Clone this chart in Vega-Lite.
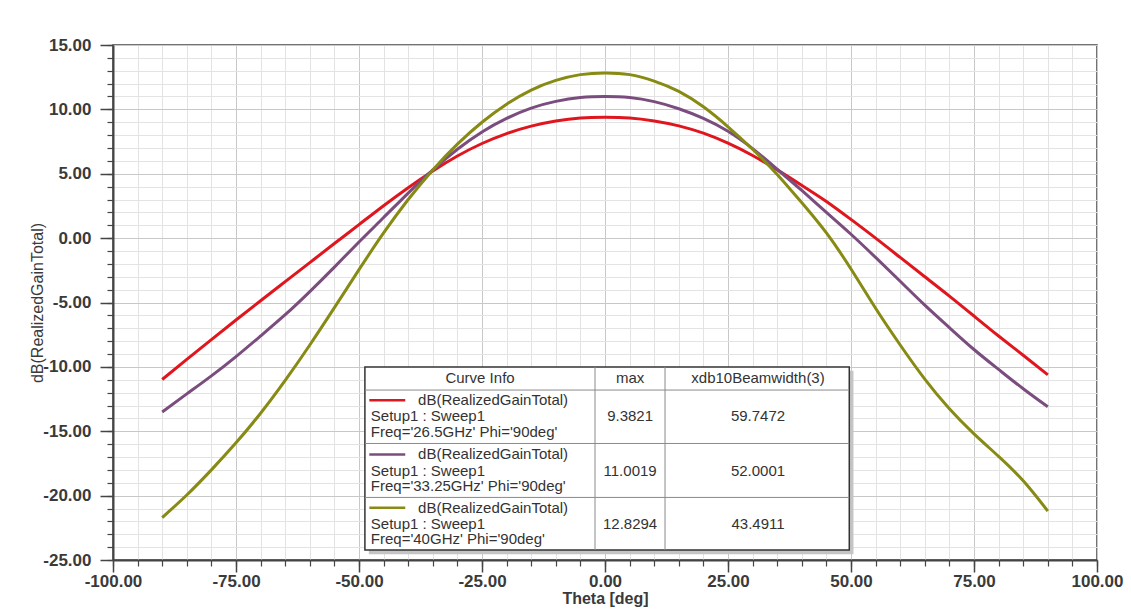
{
  "$schema": "https://vega.github.io/schema/vega-lite/v6.json",
  "width": 984,
  "height": 515,
  "autosize": {"type": "none"},
  "padding": {"left": 113, "top": 45, "right": 34, "bottom": 52},
  "background": "white",
  "config": {
    "view": {"stroke": "#444444", "strokeWidth": 1.5},
    "font": "Liberation Sans",
    "axis": {"labelFont": "Liberation Sans", "titleFont": "Liberation Sans"}
  },
  "datasets": {
    "curves": [
      {"curve": "26.5GHz", "theta": -90, "gain": -10.98},
      {"curve": "26.5GHz", "theta": -85, "gain": -9.42},
      {"curve": "26.5GHz", "theta": -80, "gain": -7.88},
      {"curve": "26.5GHz", "theta": -75, "gain": -6.36},
      {"curve": "26.5GHz", "theta": -70, "gain": -4.86},
      {"curve": "26.5GHz", "theta": -65, "gain": -3.38},
      {"curve": "26.5GHz", "theta": -60, "gain": -1.9},
      {"curve": "26.5GHz", "theta": -55, "gain": -0.42},
      {"curve": "26.5GHz", "theta": -50, "gain": 1.05},
      {"curve": "26.5GHz", "theta": -45, "gain": 2.52},
      {"curve": "26.5GHz", "theta": -40, "gain": 3.92},
      {"curve": "26.5GHz", "theta": -35, "gain": 5.22},
      {"curve": "26.5GHz", "theta": -30, "gain": 6.38},
      {"curve": "26.5GHz", "theta": -25, "gain": 7.35},
      {"curve": "26.5GHz", "theta": -20, "gain": 8.12},
      {"curve": "26.5GHz", "theta": -15, "gain": 8.7},
      {"curve": "26.5GHz", "theta": -10, "gain": 9.1},
      {"curve": "26.5GHz", "theta": -5, "gain": 9.33},
      {"curve": "26.5GHz", "theta": 0, "gain": 9.38},
      {"curve": "26.5GHz", "theta": 5, "gain": 9.33},
      {"curve": "26.5GHz", "theta": 10, "gain": 9.1},
      {"curve": "26.5GHz", "theta": 15, "gain": 8.72},
      {"curve": "26.5GHz", "theta": 20, "gain": 8.15},
      {"curve": "26.5GHz", "theta": 25, "gain": 7.38},
      {"curve": "26.5GHz", "theta": 30, "gain": 6.42},
      {"curve": "26.5GHz", "theta": 35, "gain": 5.3},
      {"curve": "26.5GHz", "theta": 40, "gain": 4.1},
      {"curve": "26.5GHz", "theta": 45, "gain": 2.85},
      {"curve": "26.5GHz", "theta": 50, "gain": 1.45},
      {"curve": "26.5GHz", "theta": 55, "gain": 0.0},
      {"curve": "26.5GHz", "theta": 60, "gain": -1.5},
      {"curve": "26.5GHz", "theta": 65, "gain": -3.0},
      {"curve": "26.5GHz", "theta": 70, "gain": -4.5},
      {"curve": "26.5GHz", "theta": 75, "gain": -6.05},
      {"curve": "26.5GHz", "theta": 80, "gain": -7.6},
      {"curve": "26.5GHz", "theta": 85, "gain": -9.1},
      {"curve": "26.5GHz", "theta": 90, "gain": -10.62},
      {"curve": "33.25GHz", "theta": -90, "gain": -13.5},
      {"curve": "33.25GHz", "theta": -85, "gain": -12.1},
      {"curve": "33.25GHz", "theta": -80, "gain": -10.7},
      {"curve": "33.25GHz", "theta": -75, "gain": -9.2},
      {"curve": "33.25GHz", "theta": -70, "gain": -7.6},
      {"curve": "33.25GHz", "theta": -65, "gain": -5.95},
      {"curve": "33.25GHz", "theta": -60, "gain": -4.15},
      {"curve": "33.25GHz", "theta": -55, "gain": -2.25},
      {"curve": "33.25GHz", "theta": -50, "gain": -0.3},
      {"curve": "33.25GHz", "theta": -45, "gain": 1.6},
      {"curve": "33.25GHz", "theta": -40, "gain": 3.5},
      {"curve": "33.25GHz", "theta": -35, "gain": 5.3},
      {"curve": "33.25GHz", "theta": -30, "gain": 6.9},
      {"curve": "33.25GHz", "theta": -25, "gain": 8.25},
      {"curve": "33.25GHz", "theta": -20, "gain": 9.3},
      {"curve": "33.25GHz", "theta": -15, "gain": 10.1},
      {"curve": "33.25GHz", "theta": -10, "gain": 10.62},
      {"curve": "33.25GHz", "theta": -5, "gain": 10.92},
      {"curve": "33.25GHz", "theta": 0, "gain": 11.0},
      {"curve": "33.25GHz", "theta": 5, "gain": 10.92},
      {"curve": "33.25GHz", "theta": 10, "gain": 10.6},
      {"curve": "33.25GHz", "theta": 15, "gain": 10.05},
      {"curve": "33.25GHz", "theta": 20, "gain": 9.3},
      {"curve": "33.25GHz", "theta": 25, "gain": 8.3},
      {"curve": "33.25GHz", "theta": 30, "gain": 6.95},
      {"curve": "33.25GHz", "theta": 35, "gain": 5.35},
      {"curve": "33.25GHz", "theta": 40, "gain": 3.7},
      {"curve": "33.25GHz", "theta": 45, "gain": 2.0},
      {"curve": "33.25GHz", "theta": 50, "gain": 0.3},
      {"curve": "33.25GHz", "theta": 55, "gain": -1.5},
      {"curve": "33.25GHz", "theta": 60, "gain": -3.35},
      {"curve": "33.25GHz", "theta": 65, "gain": -5.2},
      {"curve": "33.25GHz", "theta": 70, "gain": -6.95},
      {"curve": "33.25GHz", "theta": 75, "gain": -8.65},
      {"curve": "33.25GHz", "theta": 80, "gain": -10.2},
      {"curve": "33.25GHz", "theta": 85, "gain": -11.7},
      {"curve": "33.25GHz", "theta": 90, "gain": -13.1},
      {"curve": "40GHz", "theta": -90, "gain": -21.7},
      {"curve": "40GHz", "theta": -85, "gain": -19.95},
      {"curve": "40GHz", "theta": -80, "gain": -18.0},
      {"curve": "40GHz", "theta": -75, "gain": -15.9},
      {"curve": "40GHz", "theta": -70, "gain": -13.6},
      {"curve": "40GHz", "theta": -65, "gain": -11.05},
      {"curve": "40GHz", "theta": -60, "gain": -8.3},
      {"curve": "40GHz", "theta": -55, "gain": -5.4},
      {"curve": "40GHz", "theta": -50, "gain": -2.45},
      {"curve": "40GHz", "theta": -45, "gain": 0.4},
      {"curve": "40GHz", "theta": -40, "gain": 3.0},
      {"curve": "40GHz", "theta": -35, "gain": 5.3},
      {"curve": "40GHz", "theta": -30, "gain": 7.3},
      {"curve": "40GHz", "theta": -25, "gain": 9.0},
      {"curve": "40GHz", "theta": -20, "gain": 10.4},
      {"curve": "40GHz", "theta": -15, "gain": 11.5},
      {"curve": "40GHz", "theta": -10, "gain": 12.25},
      {"curve": "40GHz", "theta": -5, "gain": 12.7},
      {"curve": "40GHz", "theta": 0, "gain": 12.83},
      {"curve": "40GHz", "theta": 5, "gain": 12.7},
      {"curve": "40GHz", "theta": 10, "gain": 12.2},
      {"curve": "40GHz", "theta": 15, "gain": 11.4},
      {"curve": "40GHz", "theta": 20, "gain": 10.2},
      {"curve": "40GHz", "theta": 25, "gain": 8.65},
      {"curve": "40GHz", "theta": 30, "gain": 6.9},
      {"curve": "40GHz", "theta": 35, "gain": 4.95},
      {"curve": "40GHz", "theta": 40, "gain": 2.75},
      {"curve": "40GHz", "theta": 45, "gain": 0.4},
      {"curve": "40GHz", "theta": 50, "gain": -2.4},
      {"curve": "40GHz", "theta": 55, "gain": -5.45},
      {"curve": "40GHz", "theta": 60, "gain": -8.3},
      {"curve": "40GHz", "theta": 65, "gain": -10.95},
      {"curve": "40GHz", "theta": 70, "gain": -13.25},
      {"curve": "40GHz", "theta": 75, "gain": -15.2},
      {"curve": "40GHz", "theta": 80, "gain": -16.95},
      {"curve": "40GHz", "theta": 85, "gain": -18.85},
      {"curve": "40GHz", "theta": 90, "gain": -21.2}
    ],
    "legend": [
      {"curve": "26.5GHz", "name": "dB(RealizedGainTotal)", "setup": "Setup1 : Sweep1", "freq": "Freq='26.5GHz' Phi='90deg'", "max": "9.3821", "bw": "59.7472", "y1": -12.6, "y2": -13.85, "y3": -15.05},
      {"curve": "33.25GHz", "name": "dB(RealizedGainTotal)", "setup": "Setup1 : Sweep1", "freq": "Freq='33.25GHz' Phi='90deg'", "max": "11.0019", "bw": "52.0001", "y1": -16.8, "y2": -18.05, "y3": -19.25},
      {"curve": "40GHz", "name": "dB(RealizedGainTotal)", "setup": "Setup1 : Sweep1", "freq": "Freq='40GHz' Phi='90deg'", "max": "12.8294", "bw": "43.4911", "y1": -20.95, "y2": -22.2, "y3": -23.4}
    ],
    "header": [
      {"t": "Curve Info", "x": -25.4},
      {"t": "max", "x": 5.1},
      {"t": "xdb10Beamwidth(3)", "x": 31.1}
    ],
    "hlines": [{"y": -11.8}, {"y": -15.95}, {"y": -20.14}],
    "vlines": [{"x": -2.03}, {"x": 12.2}],
    "shadow": [{"x1": -48.0, "x2": 50.5, "y1": -10.3, "y2": -24.55}],
    "box": [{"x1": -48.8, "x2": 49.65, "y1": -10.0, "y2": -24.23}]
  },
  "layer": [
    {
      "data": {"name": "curves"},
      "mark": {"type": "line", "opacity": 0},
      "encoding": {
        "x": {
          "field": "theta", "type": "quantitative",
          "scale": {"domain": [-100, 100], "nice": false, "zero": false},
          "axis": {
            "orient": "bottom",
            "values": [-100,-95,-90,-85,-80,-75,-70,-65,-60,-55,-50,-45,-40,-35,-30,-25,-20,-15,-10,-5,0,5,10,15,20,25,30,35,40,45,50,55,60,65,70,75,80,85,90,95,100],
            "labels": false, "title": null, "domain": false,
            "ticks": true, "tickSize": 6, "tickColor": "#444444", "tickWidth": 1.2,
            "grid": true, "gridColor": "#e3e3e3", "gridWidth": 1
          }
        },
        "y": {
          "field": "gain", "type": "quantitative",
          "scale": {"domain": [-25, 15], "nice": false, "zero": false},
          "axis": {
            "orient": "left",
            "values": [-25,-24,-23,-22,-21,-20,-19,-18,-17,-16,-15,-14,-13,-12,-11,-10,-9,-8,-7,-6,-5,-4,-3,-2,-1,0,1,2,3,4,5,6,7,8,9,10,11,12,13,14,15],
            "labels": false, "title": null, "domain": false,
            "ticks": true, "tickSize": 6, "tickColor": "#444444", "tickWidth": 1.2,
            "grid": true, "gridColor": "#e3e3e3", "gridWidth": 1
          }
        }
      }
    },
    {
      "data": {"name": "curves"},
      "mark": {"type": "line", "strokeWidth": 3, "interpolate": "natural"},
      "encoding": {
        "x": {
          "field": "theta", "type": "quantitative",
          "axis": {
            "orient": "bottom",
            "values": [-100, -75, -50, -25, 0, 25, 50, 75, 100],
            "format": ".2f",
            "labelExpr": "replace(datum.label, '\u2212', '-')",
            "labelFlush": false, "labelOverlap": false,
            "labelFontSize": 17, "labelFontWeight": "bold", "labelColor": "#3a3a3a",
            "labelPadding": 1,
            "tickSize": 12, "tickWidth": 1.5, "tickColor": "#444444",
            "domain": true, "domainColor": "#444444", "domainWidth": 2,
            "grid": true, "gridColor": "#c8c8c8", "gridWidth": 1,
            "title": "Theta [deg]", "titleFontSize": 16, "titleFontWeight": "bold",
            "titleColor": "#3a3a3a", "titlePadding": 1
          }
        },
        "y": {
          "field": "gain", "type": "quantitative",
          "axis": {
            "orient": "left",
            "values": [-25, -20, -15, -10, -5, 0, 5, 10, 15],
            "format": ".2f",
            "labelExpr": "replace(datum.label, '\u2212', '-')",
            "labelFlush": false, "labelOverlap": false,
            "labelFontSize": 17, "labelFontWeight": "bold", "labelColor": "#3a3a3a",
            "labelPadding": 9,
            "tickSize": 13, "tickWidth": 1.5, "tickColor": "#444444",
            "domain": true, "domainColor": "#444444", "domainWidth": 2,
            "grid": true, "gridColor": "#c8c8c8", "gridWidth": 1,
            "title": "dB(RealizedGainTotal)", "titleFontSize": 16, "titleFontWeight": "normal",
            "titleColor": "#3a3a3a", "titlePadding": -3
          }
        },
        "color": {
          "field": "curve", "type": "nominal",
          "scale": {"domain": ["26.5GHz", "33.25GHz", "40GHz"], "range": ["#e0161f", "#7b4d7e", "#878b14"]},
          "legend": null
        }
      }
    },
    {
      "data": {"name": "shadow"},
      "mark": {"type": "rect", "fill": "#c4c4c4"},
      "encoding": {
        "x": {"field": "x1", "type": "quantitative", "axis": null},
        "x2": {"field": "x2"},
        "y": {"field": "y1", "type": "quantitative", "axis": null},
        "y2": {"field": "y2"}
      }
    },
    {
      "data": {"name": "box"},
      "mark": {"type": "rect", "fill": "white", "stroke": "#333333", "strokeWidth": 1.5},
      "encoding": {
        "x": {"field": "x1", "type": "quantitative", "axis": null},
        "x2": {"field": "x2"},
        "y": {"field": "y1", "type": "quantitative", "axis": null},
        "y2": {"field": "y2"}
      }
    },
    {
      "data": {"name": "hlines"},
      "mark": {"type": "rule", "color": "#8a8a8a", "strokeWidth": 1},
      "encoding": {
        "x": {"datum": -48.8, "type": "quantitative", "axis": null},
        "x2": {"datum": 49.65},
        "y": {"field": "y", "type": "quantitative", "axis": null}
      }
    },
    {
      "data": {"name": "vlines"},
      "mark": {"type": "rule", "color": "#8a8a8a", "strokeWidth": 1},
      "encoding": {
        "x": {"field": "x", "type": "quantitative", "axis": null},
        "y": {"datum": -10.0, "type": "quantitative", "axis": null},
        "y2": {"datum": -24.23}
      }
    },
    {
      "data": {"name": "header"},
      "mark": {"type": "text", "fontSize": 15, "color": "#333333", "align": "center", "baseline": "middle"},
      "encoding": {
        "x": {"field": "x", "type": "quantitative", "axis": null},
        "y": {"datum": -10.9, "type": "quantitative", "axis": null},
        "text": {"field": "t"}
      }
    },
    {
      "data": {"name": "legend"},
      "mark": {"type": "rule", "strokeWidth": 2.5},
      "encoding": {
        "x": {"datum": -47.9, "type": "quantitative", "axis": null},
        "x2": {"datum": -40.6},
        "y": {"field": "y1", "type": "quantitative", "axis": null},
        "color": {"field": "curve", "type": "nominal", "legend": null}
      }
    },
    {
      "data": {"name": "legend"},
      "mark": {"type": "text", "fontSize": 15, "color": "#333333", "align": "left", "baseline": "middle"},
      "encoding": {
        "x": {"datum": -38.0, "type": "quantitative", "axis": null},
        "y": {"field": "y1", "type": "quantitative", "axis": null},
        "text": {"field": "name"}
      }
    },
    {
      "data": {"name": "legend"},
      "mark": {"type": "text", "fontSize": 15, "color": "#333333", "align": "left", "baseline": "middle"},
      "encoding": {
        "x": {"datum": -47.6, "type": "quantitative", "axis": null},
        "y": {"field": "y2", "type": "quantitative", "axis": null},
        "text": {"field": "setup"}
      }
    },
    {
      "data": {"name": "legend"},
      "mark": {"type": "text", "fontSize": 15, "color": "#333333", "align": "left", "baseline": "middle"},
      "encoding": {
        "x": {"datum": -47.6, "type": "quantitative", "axis": null},
        "y": {"field": "y3", "type": "quantitative", "axis": null},
        "text": {"field": "freq"}
      }
    },
    {
      "data": {"name": "legend"},
      "mark": {"type": "text", "fontSize": 15, "color": "#333333", "align": "center", "baseline": "middle"},
      "encoding": {
        "x": {"datum": 5.1, "type": "quantitative", "axis": null},
        "y": {"field": "y2", "type": "quantitative", "axis": null},
        "text": {"field": "max"}
      }
    },
    {
      "data": {"name": "legend"},
      "mark": {"type": "text", "fontSize": 15, "color": "#333333", "align": "center", "baseline": "middle"},
      "encoding": {
        "x": {"datum": 31.1, "type": "quantitative", "axis": null},
        "y": {"field": "y2", "type": "quantitative", "axis": null},
        "text": {"field": "bw"}
      }
    }
  ],
  "resolve": {"axis": {"x": "independent", "y": "independent"}}
}
